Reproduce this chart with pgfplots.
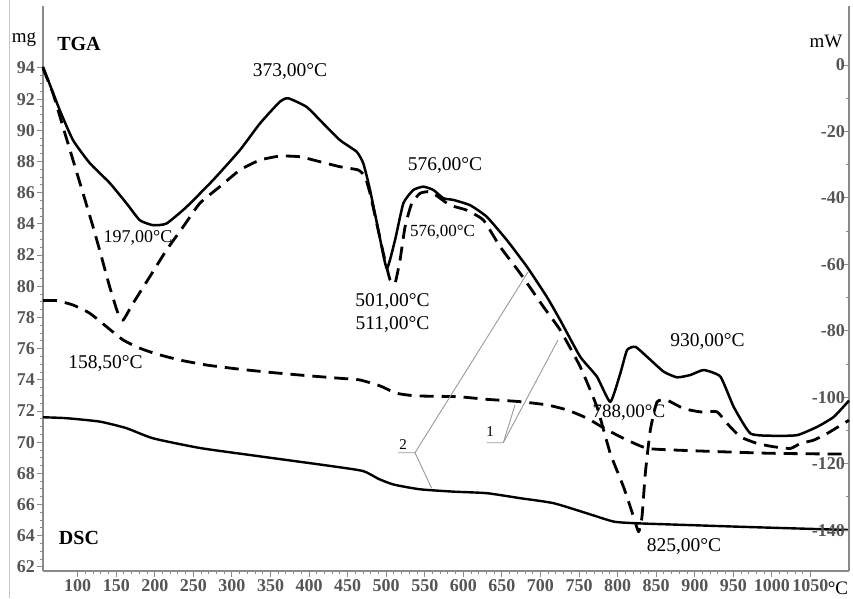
\documentclass[border=0pt]{standalone}
\usepackage{fontspec}
\setmainfont{Liberation Serif}
\usepackage{pgfplots}
\pgfplotsset{compat=1.18}
\definecolor{axgray}{HTML}{8A8A8A}
\definecolor{tickgray}{HTML}{555555}
\definecolor{leadgray}{HTML}{9A9A9A}
\newcommand{\fs}[1]{\fontsize{#1}{#1}\selectfont}
\begin{document}
\begin{tikzpicture}
\useasboundingbox (-43pt,-27pt) rectangle (810pt,571pt);
\draw[gray!45, line width=1pt] (-33pt,-27pt) -- (-33pt,571pt);
% ---------- left axis (mg) : TGA ----------
\begin{axis}[
  scale only axis, width=806pt, height=565.4pt,
  xmin=55, xmax=1100, ymin=61.74, ymax=98,
  axis x line*=bottom, axis y line*=left,
  axis line style={axgray, line width=1.3pt},
  xtick={100,150,...,1050}, minor x tick num=4,
  ytick={62,64,...,94}, minor y tick num=3,
  tick style={axgray, line width=1pt},
  major tick length=6pt, minor tick length=3pt, tick align=outside,
  /pgf/number format/assume math mode=true,
  /pgf/number format/1000 sep={},
  ticklabel style={font=\fs{18}\bfseries, text=tickgray},
  xticklabel style={inner sep=2pt},
  yticklabel style={inner sep=2pt},
  clip=false,
]
% dashed TGA (1)
\addplot[black, line width=2.8pt, dash pattern=on 14pt off 8pt, line join=round, smooth, tension=0.35] coordinates {
(55,79.08) (72.4,79.08) (93.9,78.80) (115.6,78.27) (137.3,77.41) (158.8,76.56)
(180.5,76.03) (202.1,75.66) (232.4,75.27) (267.0,74.95) (310.3,74.68) (353.5,74.46)
(396.8,74.27) (440.0,74.10) (466.0,73.99) (492.0,73.61) (513.6,73.14) (539.6,72.97)
(591.5,72.92) (630.5,72.75) (673.7,72.60) (708.3,72.39) (734.3,72.07) (760.2,71.54)
(786.2,70.79) (812.2,70.14) (838.1,69.61) (872.7,69.50) (933.3,69.39) (998.2,69.29)
(1063.1,69.25) (1100,69.25)
};
% solid TGA (2)
\addplot[black, line width=2.4pt, line join=round, smooth, tension=0.35] coordinates {
(55,71.60) (85.3,71.54) (128.6,71.32) (163.2,70.90) (197.7,70.25) (258.3,69.63)
(323.2,69.18) (427.1,68.48) (470.0,68.15) (490.0,67.65) (510.0,67.28) (543.9,66.98)
(587.1,66.83) (630.5,66.73) (673.7,66.41) (716.9,66.09) (760.2,65.44) (794.9,64.91)
(825.2,64.80) (890.0,64.69) (976.5,64.55) (1100,64.37)
};
\end{axis}
% ---------- right axis (mW) : DSC ----------
\begin{axis}[
  scale only axis, width=806pt, height=565.4pt,
  xmin=55, xmax=1100, ymin=-152.3, ymax=17.9,
  axis x line=none, axis y line*=right,
  axis line style={axgray, line width=1.3pt},
  ytick={0,-20,...,-140}, minor y tick num=1,
  tick style={axgray, line width=1pt},
  major tick length=6pt, minor tick length=3pt, tick align=inside,
  /pgf/number format/assume math mode=true,
  ticklabel style={font=\fs{18}\bfseries, text=tickgray},
  yticklabel style={anchor=east, inner sep=2pt, xshift=-2pt},
  clip=false,
]
% solid DSC (2)
\addplot[black, line width=2.5pt, line join=round, smooth, tension=0.3] coordinates {
(55,-0.5) (76.6,-13.5) (93.9,-22.6) (115.6,-29.5) (141.5,-35.5) (163.2,-41.6)
(180.5,-46.7) (197.7,-48.2) (215.1,-47.7) (241.1,-42.7) (275.6,-34.6) (310.3,-25.6)
(336.2,-17.6) (362.2,-11.0) (373,-10.0) (396.8,-12.6) (418.4,-17.6) (440.0,-22.6)
(461.7,-26.1) (470.3,-29.6) (479.0,-37.6) (489.8,-49.7) (500.7,-61.2) (511.4,-52.7)
(522.2,-41.6) (535.2,-37.6) (548.2,-36.6) (561.1,-37.6) (574.1,-40.1) (587.1,-40.6)
(608.8,-42.2) (630.5,-45.7) (656.4,-52.7) (682.4,-60.7) (708.3,-69.8) (725.6,-76.8)
(751.5,-87.8) (773.2,-93.8) (790.5,-101.4) (803.5,-92.8) (812.2,-85.8) (823.0,-84.8)
(838.1,-87.8) (859.7,-92.3) (877.1,-94.0) (894.3,-93.3) (911.6,-91.8) (933.3,-93.8)
(950.5,-102.9) (972.2,-110.9) (1002.4,-111.6) (1032.8,-111.4) (1058.8,-108.9)
(1080.3,-105.9) (1100,-101.0)
};
% dashed DSC (1)
\addplot[black, line width=2.8pt, dash pattern=on 14pt off 8pt, line join=round, smooth, tension=0.3] coordinates {
(55,-1.0) (67.9,-8.5) (80.9,-18.6) (93.9,-28.6) (106.9,-38.6) (119.9,-48.7)
(130.8,-57.7) (141.5,-66.8) (152.3,-74.8) (158.8,-76.8) (171.8,-71.7) (193.5,-63.7)
(215.1,-55.7) (236.7,-48.7) (258.3,-41.6) (284.3,-36.6) (310.3,-31.6) (336.2,-28.6)
(362.2,-27.4) (388.1,-27.6) (414.1,-29.1) (440.0,-30.6) (463.8,-31.6) (472.5,-33.6)
(479.0,-38.6) (487.7,-47.7) (496.3,-56.7) (505.0,-64.7) (511.4,-65.7) (517.9,-58.7)
(524.4,-48.7) (533.1,-41.6) (543.9,-38.6) (556.9,-38.1) (569.9,-40.1) (582.9,-42.2)
(604.5,-43.7) (626.1,-46.7) (647.7,-54.7) (673.7,-62.7) (703.9,-72.8) (725.6,-79.8)
(751.5,-90.8) (773.2,-102.9) (790.5,-116.9) (807.7,-127.0) (820.7,-136.0)
(827.2,-140.5) (831.6,-136.0) (835.9,-122.9) (842.4,-109.9) (851.1,-101.4)
(864.1,-100.9) (885.6,-103.4) (907.3,-104.4) (928.9,-104.4) (942.0,-107.9)
(959.2,-111.9) (980.9,-113.9) (1002.4,-114.9) (1024.1,-115.4) (1037.1,-113.9)
(1054.3,-112.9) (1071.7,-110.9) (1100,-106.9)
};
\end{axis}
% ---------- texts ----------
\node[font=\fs{19}] at (-19pt,531pt) {mg};
\node[font=\fs{19}] at (783pt,530pt) {mW};
\node[font=\fs{20}\bfseries] at (36pt,527pt) {TGA};
\node[font=\fs{20}\bfseries] at (36pt,33pt) {DSC};
\node[font=\fs{19}] at (795pt,-17pt) {°C};
\node[font=\fs{19.5}] at (247pt,499pt) {373,00°C};
\node[font=\fs{18}] at (95pt,333pt) {197,00°C};
\node[font=\fs{19.5}] at (402pt,405pt) {576,00°C};
\node[font=\fs{17}] at (399.5pt,339pt) {576,00°C};
\node[font=\fs{19.5}] at (349.5pt,269pt) {501,00°C};
\node[font=\fs{19.5}] at (349.5pt,246pt) {511,00°C};
\node[font=\fs{19.5}] at (62.5pt,207pt) {158,50°C};
\node[font=\fs{19}] at (586pt,158pt) {788,00°C};
\node[font=\fs{19.5}] at (664.5pt,229pt) {930,00°C};
\node[font=\fs{19.5}] at (641pt,24pt) {825,00°C};
% leader lines
\draw[leadgray, line width=0.9pt] (355pt,118.3pt) -- (372pt,118.3pt) -- (485pt,299pt);
\draw[leadgray, line width=0.9pt] (372pt,118.3pt) -- (388.7pt,82.7pt);
\draw[leadgray, line width=0.9pt] (443.7pt,128.3pt) -- (460.3pt,128.3pt) -- (515pt,231pt);
\draw[leadgray, line width=0.9pt] (460.3pt,128.3pt) -- (472pt,166pt);
\node[font=\fs{15}] at (360pt,126pt) {2};
\node[font=\fs{15}] at (447pt,139pt) {1};
\end{tikzpicture}
\end{document}
